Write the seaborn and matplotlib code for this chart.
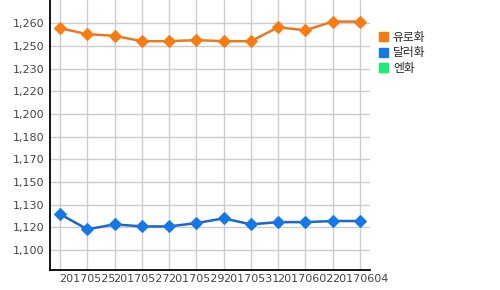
import numpy as np
import pandas as pd
import seaborn as sns
import matplotlib
matplotlib.use("Agg")
import matplotlib.pyplot as plt
from matplotlib.ticker import FuncFormatter, FixedLocator
from matplotlib.patches import Patch

dates = ["20170524", "20170525", "20170526", "20170527", "20170528", "20170529",
         "20170530", "20170531", "20170601", "20170602", "20170603", "20170604"]
euro = [1260.9, 1256.6, 1255.4, 1251.5, 1251.5, 1252.3, 1251.5, 1251.5,
        1261.6, 1259.4, 1265.7, 1265.7]
dollar = [1126.5, 1115.5, 1119.1, 1117.6, 1117.6, 1120.0, 1123.4, 1119.1,
          1120.7, 1120.7, 1121.5, 1121.5]
series_names = ["유로화", "달러화", "엔화"]
marker_colors = ["#fa7b12", "#1478e8", "#1aee78"]
line_colors = ["#e8791e", "#1e66cc", "#1aee78"]
y_tick_start, y_tick_step, n_y_ticks = 1100.5, 16.4, 11

sns.set_theme(style="white")
plt.rcParams["font.family"] = ["DejaVu Sans", "Noto Sans CJK KR"]

df = pd.DataFrame({
    "idx": list(range(len(dates))) * 2,
    "value": euro + dollar,
    "series": [series_names[0]] * len(dates) + [series_names[1]] * len(dates),
})

fig = plt.figure(figsize=(5.0, 2.9), dpi=100)
ax = fig.add_axes([0.1, 0.069, 0.64, 0.931])

for i, name in enumerate(series_names[:2]):
    sub = df[df["series"] == name]
    sns.lineplot(data=sub, x="idx", y="value", ax=ax, color=line_colors[i],
                 linewidth=1.8, marker="D", markersize=6,
                 markerfacecolor=marker_colors[i], markeredgecolor=marker_colors[i],
                 zorder=3, legend=False)

ax.set_xlim(-0.37, len(dates) - 1 + 0.37)
ax.set_ylim(1086.1, 1281.3)

yt = [y_tick_start + k * y_tick_step for k in range(n_y_ticks)]
ax.yaxis.set_major_locator(FixedLocator(yt))
ax.yaxis.set_major_formatter(FuncFormatter(lambda v, p: f"{round(v, -1):,.0f}"))
ax.set_xticks(range(len(dates)))
ax.set_xticklabels([d if i % 2 == 1 else "" for i, d in enumerate(dates)])

ax.grid(True, color="#cccccc", linewidth=1)
ax.set_axisbelow(True)
for s in ["top", "right"]:
    ax.spines[s].set_visible(False)
for s in ["left", "bottom"]:
    ax.spines[s].set_color("black")
    ax.spines[s].set_linewidth(1.3)
ax.tick_params(axis="both", length=0, labelsize=8, colors="#444444", pad=4)
ax.tick_params(axis="x", pad=3)
ax.set_xlabel("")
ax.set_ylabel("")

handles = [Patch(facecolor=c, edgecolor=c) for c in marker_colors]
leg = fig.legend(handles, series_names, loc="upper left", bbox_to_anchor=(0.748, 0.91),
                 frameon=False, prop={"family": "Noto Sans CJK KR", "size": 8.5},
                 handlelength=0.8, handleheight=0.8, handletextpad=0.4,
                 labelspacing=0.2, borderaxespad=0)

fig.savefig("out.png", dpi=100)
